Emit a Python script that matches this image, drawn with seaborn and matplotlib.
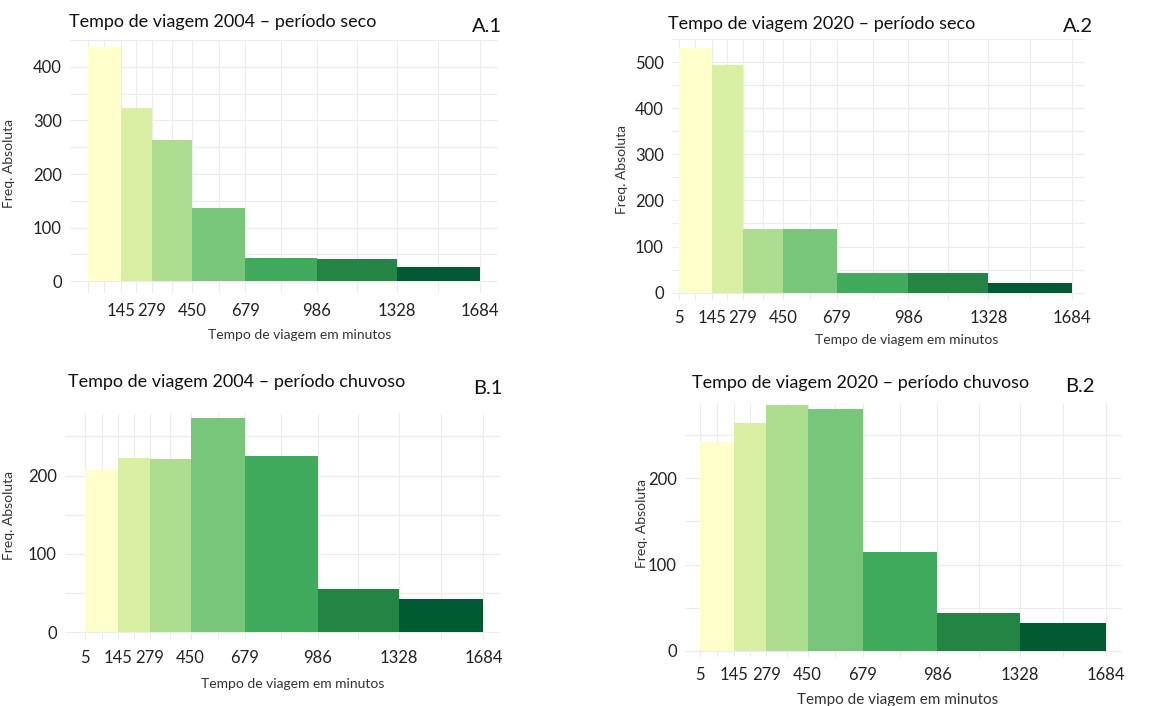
import matplotlib
matplotlib.use("Agg")
import matplotlib.pyplot as plt
import numpy as np
import pandas as pd
import seaborn as sns

W, H = 1176, 706

# bin edges (minutes) shared by all panels
EDGES = [5, 145, 279, 450, 679, 986, 1328, 1684]
PALETTE = ["#ffffcc", "#d9f0a3", "#addd8e", "#78c679", "#41ab5d", "#238443", "#005a32"]

# absolute frequencies per bin
freq_2004_seco = [437, 324, 264, 136, 44, 42, 27]
freq_2020_seco = [530, 493, 137, 137, 43, 43, 21]
freq_2004_chuvoso = [207, 222, 221, 274, 225, 55, 42]
freq_2020_chuvoso = [242, 264, 285, 280, 115, 44, 32]

titles = [
    "Tempo de viagem 2004 – período seco",
    "Tempo de viagem 2020 – período seco",
    "Tempo de viagem 2004 – período chuvoso",
    "Tempo de viagem 2020 – período chuvoso",
]
panel_tags = ["A.1", "A.2", "B.1", "B.2"]

sns.set_theme(style="white")
plt.rcParams["font.family"] = ["Lato", "DejaVu Sans"]

GRID = "#ececec"


def px_rect(left, right, top, bottom):
    return [left / W, 1 - bottom / H, (right - left) / W, (bottom - top) / H]


def draw_panel(fig, freqs, rect, xlim, ylim, yticks, xticklabels, title, title_xy,
               tag, tag_xy, xlabel_xy, ylabel_xy, xlabel_size=10):
    ax = fig.add_axes(px_rect(*rect))
    mids = [(a + b) / 2 for a, b in zip(EDGES[:-1], EDGES[1:])]
    df = pd.DataFrame({"mid": mids, "freq": freqs, "bin": [str(i) for i in range(len(mids))]})
    sns.histplot(
        data=df, x="mid", weights="freq", hue="bin", bins=EDGES,
        palette=PALETTE, multiple="layer", alpha=1, linewidth=0,
        legend=False, ax=ax, zorder=2,
    )
    ax.set_xlim(*xlim)
    ax.set_ylim(*ylim)
    ax.set_yticks(yticks)
    ax.set_yticks([v + 50 for v in yticks], minor=True)
    ax.set_xticks(EDGES)
    ax.set_xticks(mids, minor=True)
    ax.set_xticklabels(xticklabels, fontsize=12, color="#222222")
    ax.tick_params(axis="y", labelsize=12, labelcolor="#222222", pad=6)
    ax.tick_params(axis="x", pad=7)
    ax.tick_params(which="both", length=0)
    ax.grid(True, which="both", color=GRID, linewidth=0.8, zorder=0)
    ax.set_axisbelow(True)
    for s in ax.spines.values():
        s.set_visible(False)
    ax.set_xlabel("Tempo de viagem em minutos", fontsize=xlabel_size, color="#333333")
    ax.set_ylabel("Freq. Absoluta", fontsize=10, color="#333333")
    # label placement in figure pixels
    inv = ax.transAxes.inverted()
    fx, fy = inv.transform(fig.transFigure.transform((xlabel_xy[0] / W, 1 - xlabel_xy[1] / H)))
    ax.xaxis.set_label_coords(fx, fy)
    fx, fy = inv.transform(fig.transFigure.transform((ylabel_xy[0] / W, 1 - ylabel_xy[1] / H)))
    ax.yaxis.set_label_coords(fx, fy)
    fig.text(title_xy[0] / W, 1 - title_xy[1] / H, title, fontsize=13,
             ha="left", va="center", color="#111111")
    fig.text(tag_xy[0] / W, 1 - tag_xy[1] / H, tag, fontsize=14.5,
             ha="left", va="center", color="#111111")
    return ax


fig = plt.figure(figsize=(W / 100, H / 100), dpi=100)
fig.patch.set_facecolor("white")

labels_full = [str(e) for e in EDGES]
labels_a1 = [""] + labels_full[1:]

draw_panel(fig, freq_2004_seco, (70, 498, 40, 293), (-72, 1761), (-22, 441),
           [0, 100, 200, 300, 400], labels_a1, titles[0], (69, 22),
           panel_tags[0], (472, 26), (300, 329), (15, 163))
draw_panel(fig, freq_2020_seco, (672, 1085, 39, 300), (-25, 1741), (-16, 530),
           [0, 100, 200, 300, 400, 500], labels_full, titles[1], (668, 24),
           panel_tags[1], (1063, 26), (907, 334), (628, 170))
draw_panel(fig, freq_2004_chuvoso, (65, 500, 413, 640), (-79, 1754), (-10, 280),
           [0, 100, 200], labels_full, titles[2], (68, 382),
           panel_tags[2], (473, 389), (293, 678), (15, 515))
draw_panel(fig, freq_2020_chuvoso, (685, 1122, 403, 657), (-57, 1750), (-7, 287),
           [0, 100, 200], labels_full, titles[3], (692, 383),
           panel_tags[3], (1065, 387), (898, 693), (648, 523), xlabel_size=11)

fig.savefig("out.png", dpi=100, facecolor="white")
